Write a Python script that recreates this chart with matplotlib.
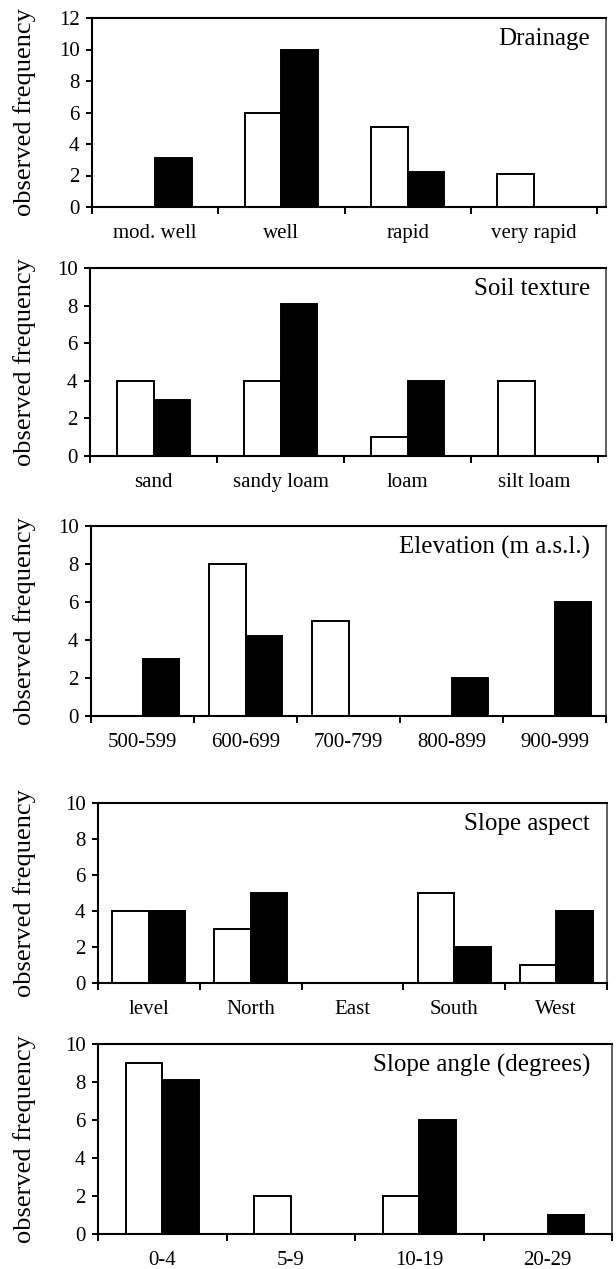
import matplotlib
matplotlib.use("Agg")
import matplotlib.pyplot as plt
import numpy as np

plt.rcParams['font.family'] = ['Liberation Serif', 'DejaVu Serif']

# data (white = first group, black = second group)
drain_cats = ["mod. well", "well", "rapid", "very rapid"]
drain_white = [0, 6, 5.1, 2.1]
drain_black = [3.1, 10, 2.2, 0]

soil_cats = ["sand", "sandy loam", "loam", "silt loam"]
soil_white = [4, 4, 1, 4]
soil_black = [3, 8.1, 4, 0]

elev_cats = ["500-599", "600-699", "700-799", "800-899", "900-999"]
elev_white = [0, 8, 5, 0, 0]
elev_black = [3, 4.2, 0, 2, 6]

aspect_cats = ["level", "North", "East", "South", "West"]
aspect_white = [4, 3, 0, 5, 1]
aspect_black = [4, 5, 0, 2, 4]

angle_cats = ["0-4", "5-9", "10-19", "20-29"]
angle_white = [9, 2, 2, 0]
angle_black = [8.1, 0, 6, 1]

W, H = 616, 1269
fig = plt.figure(figsize=(W / 100, H / 100), dpi=100)

# (title, cats, white, black, ymax, left, axis right, box right, top, bottom) in pixels
panels = [
    ("Drainage", drain_cats, drain_white, drain_black, 12, 92, 597, 606, 18, 207),
    ("Soil texture", soil_cats, soil_white, soil_black, 10, 90, 598, 606, 268, 456),
    ("Elevation (m a.s.l.)", elev_cats, elev_white, elev_black, 10, 91, 606, 606, 526, 716),
    ("Slope aspect", aspect_cats, aspect_white, aspect_black, 10, 98, 607, 607, 803, 983),
    ("Slope angle (degrees)", angle_cats, angle_white, angle_black, 10, 98, 612, 612, 1044, 1234),
]

for title, cats, white, black, ymax, L, R, RB, T, B in panels:
    ax = fig.add_axes([L / W, 1 - B / H, (RB - L) / W, (B - T) / H])
    n = len(cats)
    catw = (R - L) / n
    w = 36.5 / catw
    x = np.arange(n)
    ax.bar(x + 0.5 - w, white, width=w, align='edge', color='white',
           edgecolor='black', linewidth=1.4)
    ax.bar(x + 0.5, black, width=w, align='edge', color='black',
           edgecolor='black', linewidth=1.4)

    ax.set_xlim(0, n * (RB - L) / (R - L))
    ax.set_ylim(0, ymax)
    ax.set_yticks(np.arange(0, ymax + 1, 2))
    ax.set_xticks(x + 0.5)
    ax.set_xticklabels(cats)
    ax.set_xticks(np.arange(n + 1), minor=True)
    ax.tick_params(axis='x', which='major', length=0, pad=12, labelsize=15)
    ax.tick_params(axis='x', which='minor', length=5, width=1.4, direction='out')
    ax.tick_params(axis='y', length=4, width=1.4, direction='out', pad=5, labelsize=15)

    for side in ['left', 'bottom', 'top']:
        ax.spines[side].set_linewidth(1.5)
        ax.spines[side].set_color('black')
    ax.spines['right'].set_linewidth(1.3)
    ax.spines['right'].set_color('#555555')

    fig.text(590 / W, 1 - (T + 21) / H, title, ha='right', va='center', fontsize=18)
    fig.text(25 / W, 1 - (T + B) / 2 / H, "observed frequency", rotation=90,
             ha='center', va='center', fontsize=19)

fig.savefig("out.png", dpi=100)
